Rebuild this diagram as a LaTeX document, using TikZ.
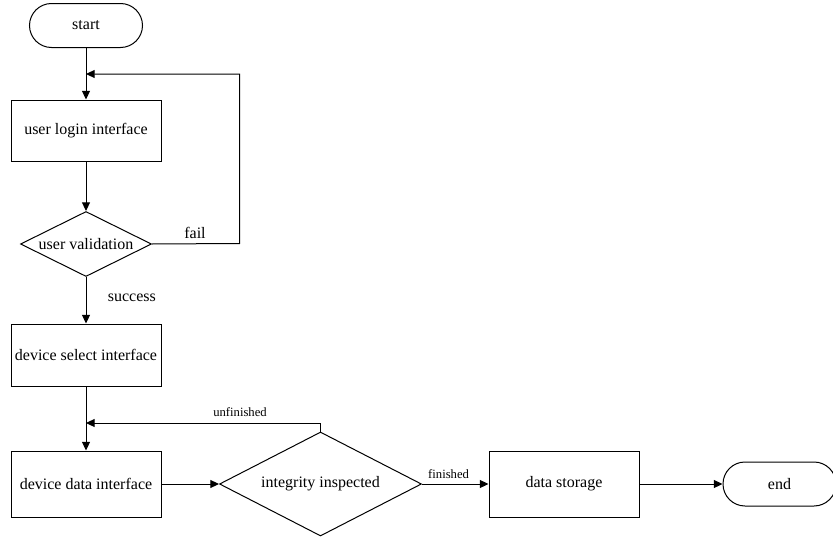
\documentclass[tikz,border=0pt]{standalone}
\usepackage{fontspec}
\setmainfont{Liberation Serif}
\usetikzlibrary{shapes.geometric,arrows.meta}
\begin{document}
\begin{tikzpicture}[x=0.75pt,y=-0.75pt,
  every node/.style={font=\fontsize{12}{14}\selectfont, inner sep=0pt},
  base/.style={draw, line width=0.75pt},
  terminal/.style={base, rectangle, rounded corners=16.5pt, minimum width=84.75pt, minimum height=33pt},
  procbox/.style={base, rectangle, minimum width=112.5pt},
  decision/.style={base, diamond},
  flow/.style={line width=0.75pt, -{Triangle[length=6.5pt,width=6pt]}},
  edgelabel/.style={font=\fontsize{12}{14}\selectfont},
  smalllabel/.style={font=\fontsize{9.5}{11}\selectfont}
]
\useasboundingbox (0,0) rectangle (833,539);

% nodes
\node[terminal] (start) at (86,25.5) {start};
\node[procbox, minimum height=45.75pt] (login) at (86,130.5) {user login interface};
\node[decision, minimum width=98.25pt, minimum height=48.75pt] (valid) at (86,244) {\makebox[0pt]{user validation}};
\node[procbox, minimum height=46.5pt] (select) at (86,355) {device select interface};
\node[procbox, minimum height=49.5pt] (ddata) at (86,484) {device data interface};
\node[decision, minimum width=151.5pt, minimum height=78pt] (integ) at (320.5,484) {\makebox[0pt]{integrity inspected}};
\node[procbox, minimum height=49.5pt] (store) at (564,484) {data storage};
\node[terminal] (end) at (779.5,484) {end};

% junction points of the feedback loops
\coordinate (loginjoin) at (86,74);
\coordinate (failcorner) at (239.5,243.5);
\coordinate (failtop) at (239.5,74);
\coordinate (datajoin) at (86,423);
\coordinate (unfcorner) at (320.5,423);

% connectors
\draw[flow] (start) -- (login);
\draw[flow] (login) -- (valid);
\draw[flow] (valid) -- (select) node[pos=0.45, right=16pt, edgelabel] {success};
\draw[flow] (valid.east) -- (failcorner) -- (failtop) -- (loginjoin);
\node[edgelabel] at (195,233) {fail};
\draw[flow] (select) -- (ddata);
\draw[flow] (integ.north) -- (unfcorner) -- (datajoin);
\node[smalllabel] at (240,412) {unfinished};
\draw[flow] (ddata) -- (integ);
\draw[flow] (integ.east) -- (store.west) node[pos=0.4, above=4pt, smalllabel] {finished};
\draw[flow] (store) -- (end);
\end{tikzpicture}
\end{document}
